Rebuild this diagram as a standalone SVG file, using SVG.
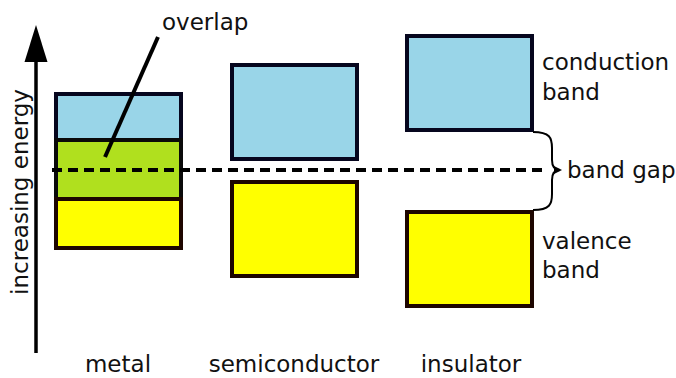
<svg xmlns="http://www.w3.org/2000/svg" width="676" height="378" viewBox="0 0 676 378">
<style>
text{font-family:"DejaVu Sans",Verdana,sans-serif;font-size:23px;fill:#111}
.cb{fill:#99d5e8;stroke:#06061e;stroke-width:4}
.vb{fill:#ffff00;stroke:#1e0600;stroke-width:4}
.ov{fill:#b0e01e;stroke:#0a0a0a;stroke-width:4}
</style>
<rect width="676" height="378" fill="#fff"/>
<g id="axis">
<line x1="36" y1="353" x2="36" y2="58" stroke="#000" stroke-width="3.5"/>
<polygon points="36,25 24.5,62 47.5,62" fill="#000"/>
<text transform="translate(28,192) rotate(-90)" text-anchor="middle">increasing energy</text>
</g>
<g id="metal">
<rect class="cb" x="56" y="94" width="125" height="46"/>
<rect class="ov" x="56" y="140" width="125" height="59"/>
<rect class="vb" x="56" y="199" width="125" height="49"/>
<text x="118" y="372" text-anchor="middle">metal</text>
</g>
<g id="semiconductor">
<rect class="cb" x="232" y="65" width="125" height="94"/>
<rect class="vb" x="232" y="182" width="125" height="94"/>
<text x="294" y="372" text-anchor="middle">semiconductor</text>
</g>
<g id="insulator">
<rect class="cb" x="407" y="36" width="125" height="94"/>
<rect class="vb" x="407" y="212" width="125" height="94"/>
<text x="471" y="372" text-anchor="middle">insulator</text>
</g>
<g id="labels">
<text x="542" y="70">conduction</text>
<text x="542" y="100">band</text>
<text x="542" y="249">valence</text>
<text x="542" y="278">band</text>
<text x="567" y="178">band gap</text>
<text x="162" y="30">overlap</text>
</g>
<g id="connectors" fill="none" stroke="#000">
<line x1="52" y1="170" x2="544" y2="170" stroke-width="4" stroke-dasharray="10,6"/>
<line x1="158" y1="37" x2="105" y2="157" stroke-width="4"/>
<path d="M533,132 C550,132 552,138 552,148 L552,160 C552,167 555,170 560,170 C555,170 552,173 552,180 L552,194 C552,204 550,210 533,210" stroke-width="2"/>
<polygon points="554,166 562,170 554,174" fill="#000" stroke="none"/>
</g>
</svg>
